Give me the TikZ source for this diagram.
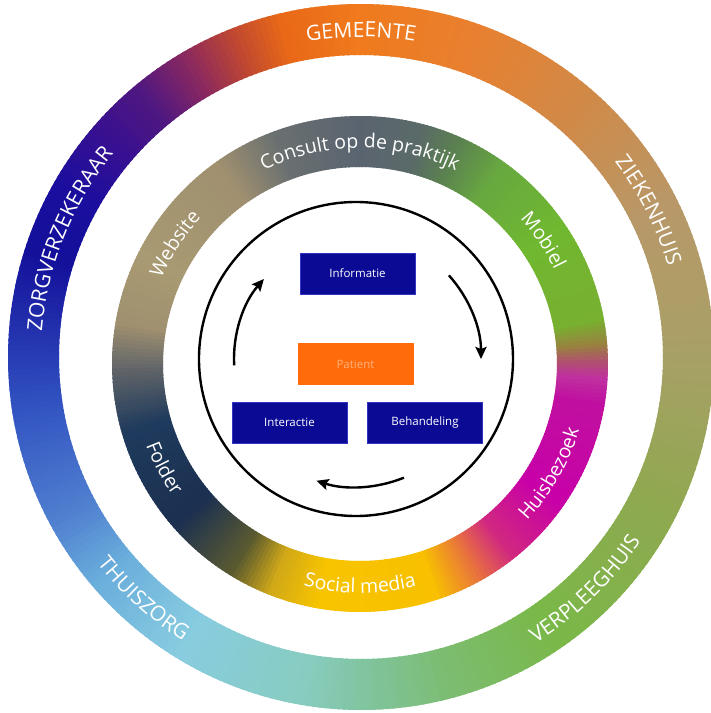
\documentclass[tikz,border=0pt]{standalone}
\usepackage{fontspec}
\setmainfont{Open Sans}
\usetikzlibrary{calc, decorations.text, arrows.meta}

\definecolor{stageblue}{HTML}{0A0A94}
\definecolor{stageedge}{HTML}{3434C4}
\definecolor{patientorange}{HTML}{FF6A0A}
\definecolor{patienttext}{HTML}{FFB27A}

% ring made of thin sectors, colour blended between the stops
\newcommand{\colourring}[3]{%
    \foreach \a/\ca/\b/\cb in {#3}{%
        \edef\setcols{\noexpand\definecolor{segfrom}{HTML}{\ca}\noexpand\definecolor{segto}{HTML}{\cb}}%
        \setcols
        \pgfmathtruncatemacro\n{\b-\a-1}%
        \foreach \t in {0,...,\n}{%
            \pgfmathtruncatemacro\p{100-100*\t/(\b-\a)}%
            \pgfmathsetmacro\s{\a+\t}%
            \pgfmathsetmacro\e{\a+\t+1.5}%
            \fill[segfrom!\p!segto] (\s:#2) arc[start angle=\s, end angle=\e, radius=#2] -- (\e:#1) arc[start angle=\e, end angle=\s, radius=#1] -- cycle;
        }%
    }%
}

\begin{document}
\begin{tikzpicture}[x=1pt, y=1pt,
        stage/.style={rectangle, draw=stageedge, line width=0.6pt, fill=stageblue, text=white, minimum width=115pt, minimum height=41pt, font=\fontsize{11.5}{12}\selectfont},
        cyclearrow/.style={line width=2.4pt, -{Stealth[length=12pt, width=11pt, inset=2pt]}},
        outertext/.style={decorate, decoration={text along path, text align=center, text color=white, text={|\fontsize{21}{25}\selectfont|#1}}},
        innertext/.style={decorate, decoration={text along path, text align=center, text color=white, text={|\fontsize{19.5}{23}\selectfont|#1}}}
    ]

        \useasboundingbox (-361,-356) rectangle (350,357);
        \clip (-361,-356) rectangle (350,357);

        % outer ring
        \colourring{302pt}{353pt}{0/A8A066/26/B89868, 26/B89868/48/D08A48, 48/D08A48/70/E88030, 70/E88030/90/F07A1C, 90/F07A1C/103/E86818, 103/E86818/111/C04830, 111/C04830/120/8A2860, 120/8A2860/129/501880, 129/501880/138/3A1090, 138/3A1090/150/1A0E9E, 150/1A0E9E/162/14109A, 162/14109A/187/3050C0, 187/3050C0/208/5080D0, 208/5080D0/220/6AAEDC, 220/6AAEDC/238/88CCE0, 238/88CCE0/260/88CCC0, 260/88CCC0/270/80C4A0, 270/80C4A0/285/7CBC70, 285/7CBC70/305/7AB848, 305/7AB848/334/90A850, 334/90A850/360/A8A066}

        % inner ring
        \begin{scope}[shift={(-1,-7)}]
            \colourring{197pt}{248pt}{-10/C010A0/-4/C030A0, -4/C030A0/0/B05070, 0/B05070/4/9A8040, 4/9A8040/10/78B030, 10/78B030/34/70B830, 34/70B830/54/68A840, 54/68A840/66/5A8050, 66/5A8050/75/5A6A68, 75/5A6A68/90/5A6470, 90/5A6470/110/6A7070, 110/6A7070/125/A09070, 125/A09070/154/A89A72, 154/A89A72/170/A09070, 170/A09070/181/606468, 181/606468/196/1E3A5C, 196/1E3A5C/221/1C3050, 221/1C3050/238/5A5A30, 238/5A5A30/248/D0A818, 248/D0A818/260/F8C400, 260/F8C400/288/F8C000, 288/F8C000/299/E87040, 299/E87040/308/D02880, 308/D02880/325/C800A8, 325/C800A8/350/C010A0}

            % inner ring labels
            \path[innertext={Consult op de praktijk}] (140:216pt) arc[start angle=140, end angle=40, radius=216pt];
            \path[innertext={Mobiel}] (74:216pt) arc[start angle=74, end angle=-6, radius=216pt];
            \path[innertext={Website}] (187:216pt) arc[start angle=187, end angle=107, radius=216pt];
            \path[innertext={Huisbezoek}] (-70:229pt) arc[start angle=-70, end angle=10, radius=229pt];
            \path[innertext={Social media}] (230:229pt) arc[start angle=230, end angle=310, radius=229pt];
            \path[innertext={Folder}] (168:229pt) arc[start angle=168, end angle=248, radius=229pt];
        \end{scope}

        % outer ring labels
        \path[outertext={GEMEENTE}] (130:320pt) arc[start angle=130, end angle=50, radius=320pt];
        \path[outertext={ZIEKENHUIS}] (67:320pt) arc[start angle=67, end angle=-13, radius=320pt];
        \path[outertext={ZORGVERZEKERAAR}] (198:320pt) arc[start angle=198, end angle=118, radius=320pt];
        \path[outertext={VERPLEEGHUIS}] (-86:335pt) arc[start angle=-86, end angle=-6, radius=335pt];
        \path[outertext={THUISZORG}] (188:335pt) arc[start angle=188, end angle=268, radius=335pt];

        % cycle
        \coordinate (hub) at (-5,-2);
        \draw[line width=2.4pt] (hub) circle[radius=157pt];

        \node[stage] (info) at (-3.5,83.5) {Informatie};
        \node[stage, fill=patientorange, draw=patientorange, text=patienttext] (patient) at (-5.5,-7) {Patient};
        \node[stage] (interact) at (-71.5,-65.5) {Interactie};
        \node[stage] (treat) at (64,-65.5) {Behandeling};

        % arrows round the cycle
        \coordinate (left start) at ($(hub)+(183:122pt)$);
        \coordinate (right start) at ($(hub)+(42:125pt)$);
        \coordinate (bottom start) at ($(hub)+(-68:128pt)$);
        \draw[cyclearrow] (left start) arc[start angle=183, end angle=139, radius=122pt];
        \draw[cyclearrow] (right start) arc[start angle=42, end angle=0, radius=125pt];
        \draw[cyclearrow] (bottom start) arc[start angle=-68, end angle=-108, radius=128pt];

    \end{tikzpicture}
\end{document}
